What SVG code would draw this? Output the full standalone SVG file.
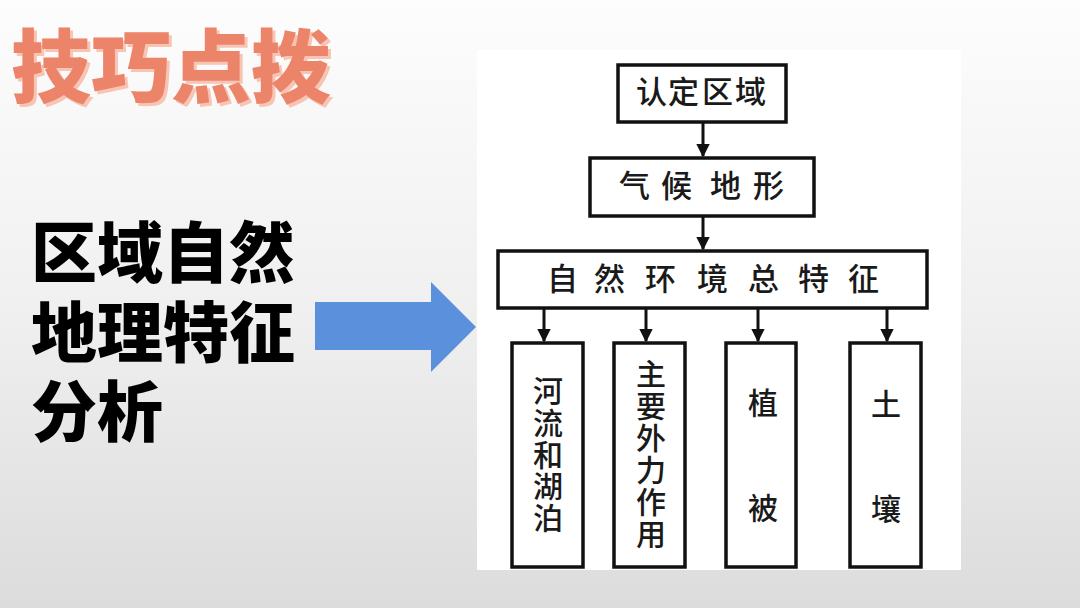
<svg xmlns="http://www.w3.org/2000/svg" width="1080" height="608" viewBox="0 0 1080 608">
<defs>
<linearGradient id="bg" x1="0" y1="0" x2="0" y2="1">
<stop offset="0" stop-color="#fdfdfd"/>
<stop offset="0.5" stop-color="#f0f0f0"/>
<stop offset="1" stop-color="#dcdcdc"/>
</linearGradient>
<filter id="sh" x="-5%" y="-10%" width="115%" height="130%">
<feOffset in="SourceAlpha" dx="3" dy="3" result="o"/>
<feFlood flood-color="#f8c4b4"/>
<feComposite in2="o" operator="in" result="s"/>
<feMerge><feMergeNode in="s"/><feMergeNode in="SourceGraphic"/></feMerge>
</filter>
<marker id="ah" viewBox="0 0 10 10" refX="9" refY="5" markerWidth="4.5" markerHeight="4.5" orient="auto" markerUnits="strokeWidth">
<path d="M0,0 L10,5 L0,10 z" fill="#111"/>
</marker>
<style>
.box{fill:#fff;stroke:#111;stroke-width:3.5}
.lbl{font-family:"Noto Sans CJK SC","Noto Sans",sans-serif;font-size:31px;font-weight:500;fill:#1a1a1a}
.vl{font-family:"Noto Sans CJK SC","Noto Sans",sans-serif;font-size:30px;font-weight:500;fill:#1a1a1a;writing-mode:vertical-rl}
.big{font-family:"Noto Sans CJK SC","Noto Sans",sans-serif;font-size:66px;font-weight:900;fill:#000}
.title{font-family:"Noto Sans CJK SC","Noto Sans",sans-serif;font-size:80px;font-weight:900;fill:#ec8469}
.conn{stroke:#111;stroke-width:3;fill:none}
</style>
</defs>
<rect width="1080" height="608" fill="url(#bg)"/>
<g id="title">
<text class="title" x="11" y="96" filter="url(#sh)">技巧点拨</text>
</g>
<g id="heading">
<text class="big"><tspan x="31" y="277">区域自然</tspan><tspan x="31" y="357">地理特征</tspan><tspan x="31" y="436">分析</tspan></text>
</g>
<g id="bigarrow">
<path d="M315,302 L431,302 L431,282 L476,327 L431,372 L431,350 L315,350 z" fill="#5b90dc"/>
</g>
<rect x="477" y="50" width="484" height="520" fill="#fff"/>
<g id="connectors">
<line class="conn" x1="703" y1="122" x2="703" y2="156" marker-end="url(#ah)"/>
<line class="conn" x1="703" y1="216" x2="703" y2="249" marker-end="url(#ah)"/>
<line class="conn" x1="544" y1="308" x2="544" y2="341" marker-end="url(#ah)"/>
<line class="conn" x1="646" y1="308" x2="646" y2="341" marker-end="url(#ah)"/>
<line class="conn" x1="758" y1="308" x2="758" y2="341" marker-end="url(#ah)"/>
<line class="conn" x1="887" y1="308" x2="887" y2="341" marker-end="url(#ah)"/>
</g>
<g id="n1">
<rect class="box" x="618" y="65" width="168" height="57"/>
<text class="lbl" y="103"><tspan x="636">认</tspan><tspan x="668">定</tspan><tspan x="702">区</tspan><tspan x="735">域</tspan></text>
</g>
<g id="n2">
<rect class="box" x="590" y="158" width="224" height="58"/>
<text class="lbl" y="197"><tspan x="619">气</tspan><tspan x="661">候</tspan><tspan x="710">地</tspan><tspan x="753">形</tspan></text>
</g>
<g id="n3">
<rect class="box" x="498" y="251" width="429" height="57"/>
<text class="lbl" y="290"><tspan x="547">自</tspan><tspan x="594">然</tspan><tspan x="645">环</tspan><tspan x="697">境</tspan><tspan x="748">总</tspan><tspan x="798">特</tspan><tspan x="848">征</tspan></text>
</g>
<g id="n4">
<rect class="box" x="512" y="343" width="71" height="224"/>
<text class="vl" x="548" y="376" letter-spacing="1.6">河流和湖泊</text>
</g>
<g id="n5">
<rect class="box" x="614" y="343" width="71" height="224"/>
<text class="vl" x="651" y="359" letter-spacing="2">主要外力作用</text>
</g>
<g id="n6">
<rect class="box" x="726" y="343" width="70" height="224"/>
<text class="vl" x="763" y="388" letter-spacing="75">植被</text>
</g>
<g id="n7">
<rect class="box" x="850" y="343" width="71" height="224"/>
<text class="vl" x="886" y="389" letter-spacing="75">土壤</text>
</g>
</svg>
